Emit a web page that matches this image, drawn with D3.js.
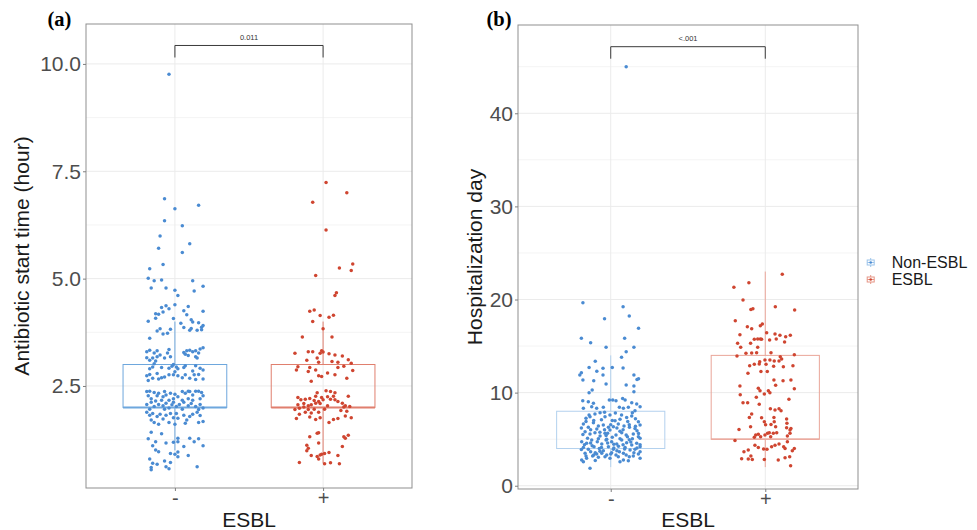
<!DOCTYPE html>
<html><head><meta charset="utf-8">
<script src="https://cdn.jsdelivr.net/npm/d3@7"></script>
<style>body{margin:0;background:#fff}svg{display:block}text{font-family:'Liberation Sans',Arial,Helvetica,sans-serif}</style>
</head><body><svg id="chart" width="977" height="530"></svg>
<script>
// ---------------- DATA ----------------
const categories = ["-", "+"];
const legendLabels = ["Non-ESBL", "ESBL"];
const pValues = ["0.011", "<.001"];
const panelLabels = ["(a)", "(b)"];
const yTitles = ["Antibiotic start time (hour)", "Hospitalization day"];
const xTitle = "ESBL";

const antibioticTicks = [2.5, 5.0, 7.5, 10.0];
const antibioticMinor = [1.25, 3.75, 6.25, 8.75];
const hospitalTicks = [0, 10, 20, 30, 40];
const hospitalMinor = [5, 15, 25, 35, 45];

// box statistics [Non-ESBL, ESBL]
const antibioticQ1 = [2.0, 2.0];
const antibioticMedian = [2.0, 2.0];
const antibioticQ3 = [3.0, 3.0];
const antibioticLow = [1.0, 0.7];
const antibioticHigh = [4.0, 4.0];
const hospitalQ1 = [4, 5];
const hospitalMedian = [4, 5];
const hospitalQ3 = [8, 14];
const hospitalLow = [2, 2];
const hospitalHigh = [14, 23];

// jittered observations: [jitter (category units), value]
const antibioticNonEsbl = [
[-0.04,9.76],
[-0.07,6.86],[0.00,6.63],[0.16,6.71],[-0.07,6.35],[0.05,6.23],[-0.10,5.99],[0.10,5.81],[-0.11,5.71],[0.05,5.61],[-0.08,5.33],[-0.17,5.23],[-0.18,5.01],[-0.14,4.95],[-0.09,4.97],[0.12,4.95],[0.19,4.82],[-0.16,4.78],[-0.06,4.78],[0.13,4.71],[0.00,4.73],[0.02,4.61],[0.00,4.39],[-0.09,4.33],[-0.06,4.37],[-0.04,4.30],[0.09,4.35],[0.06,4.25],[0.19,4.24],[-0.13,4.18],[-0.11,4.17],[-0.08,4.22],[0.08,4.16],[-0.13,4.08],[-0.18,4.01],[-0.01,4.07],[0.04,3.96],[0.11,4.04],[0.12,3.99],[0.16,3.97],[0.19,3.91],[0.18,3.87],[-0.10,3.83],[-0.03,3.82],[0.06,3.86],[0.11,3.84],
[-0.12,3.78],[-0.05,3.73],[-0.08,3.71],[0.10,3.80],[0.15,3.80],[0.18,3.81],[-0.17,3.61],
[-0.19,3.30],[-0.17,3.33],[-0.14,3.27],[-0.12,3.32],[-0.10,3.22],[-0.12,3.18],[-0.19,3.16],[-0.15,3.15],[-0.17,3.10],[-0.13,3.08],[-0.04,3.35],[-0.05,3.27],[-0.03,3.18],[-0.07,3.15],[0.06,3.28],[0.08,3.32],[0.10,3.33],[0.12,3.30],[0.14,3.32],[0.16,3.27],[0.17,3.36],[0.19,3.39],[0.14,3.18],[0.15,3.15],[0.09,3.21],[0.07,3.24],
[-0.14,3.02],[-0.15,2.94],[-0.04,2.91],[-0.02,2.96],[-0.01,3.00],[0.01,2.94],[0.02,2.90],[0.06,2.93],[0.07,2.97],[0.14,2.97],[0.17,2.91],[0.19,2.87],[0.12,2.85],[0.00,2.83],[-0.17,2.90],[-0.09,2.93],
[-0.19,2.74],[-0.17,2.77],[-0.15,2.68],[-0.12,2.79],[-0.09,2.69],[-0.07,2.71],[-0.01,2.76],[0.02,2.74],[0.05,2.69],[0.07,2.76],[0.10,2.68],[0.13,2.76],[0.16,2.77],[0.19,2.66],[-0.18,2.63],[-0.11,2.66],[-0.04,2.76],[0.14,2.65],
[-0.19,2.37],[-0.17,2.38],[-0.14,2.35],[-0.18,2.27],[-0.12,2.27],[-0.11,2.33],[-0.08,2.25],[-0.06,2.29],[-0.03,2.33],[-0.16,2.20],[-0.09,2.17],[-0.04,2.17],[0.00,2.31],[0.02,2.25],[0.05,2.37],[0.07,2.33],[0.09,2.38],[0.10,2.37],[0.12,2.29],[0.14,2.38],[0.16,2.38],[0.18,2.35],[0.19,2.27],[0.09,2.20],[0.12,2.17],[0.17,2.20],[-0.01,2.20],[0.05,2.17],[-0.13,2.15],[-0.07,2.37],
[-0.19,2.07],[-0.16,2.12],[-0.14,2.02],[-0.11,2.07],[-0.08,2.04],[-0.06,2.10],[-0.04,1.99],[-0.02,2.06],[-0.01,2.12],[0.01,2.02],[0.03,2.07],[0.06,2.12],[0.09,2.04],[0.11,2.09],[0.14,2.02],[0.17,2.07],[0.19,1.99],[-0.17,1.96],[-0.07,1.96],[0.05,1.96],[0.16,1.95],
[-0.19,1.89],[-0.17,1.82],[-0.15,1.86],[-0.12,1.79],[-0.10,1.84],[-0.16,1.71],[-0.14,1.65],[-0.08,1.73],[-0.06,1.82],[-0.03,1.86],[-0.01,1.76],[-0.04,1.65],[0.01,1.86],[0.02,1.75],[0.06,1.82],[0.08,1.71],[0.10,1.79],[0.12,1.84],[0.15,1.89],[0.17,1.81],[0.19,1.67],[0.07,1.63],[0.16,1.65],[-0.11,1.61],[0.00,1.61],
[-0.16,1.42],[-0.09,1.39],[-0.18,1.27],[-0.13,1.20],[-0.06,1.17],[-0.01,1.19],[0.02,1.28],[0.02,1.20],[0.10,1.28],[0.13,1.20],[0.16,1.27],[0.19,1.11],[-0.15,1.11],[0.06,1.09],
[-0.13,1.01],[-0.11,0.97],[-0.03,0.93],[0.00,0.91],[0.02,0.96],[0.09,0.88],[-0.17,0.80],[-0.15,0.70],[-0.12,0.68],[-0.16,0.60],[-0.07,0.75],[-0.03,0.72],[-0.06,0.62],[0.15,0.62],[-0.04,0.57],[-0.16,0.55],[0.02,0.85]
];
const antibioticEsbl = [
[0.02,7.24],[0.16,7.00],[-0.07,6.78],[0.02,6.13],[0.20,5.34],[0.11,5.25],[0.19,5.19],[-0.05,5.07],[0.09,4.67],[0.08,4.61],[-0.09,4.24],[-0.06,4.27],[-0.02,4.14],[0.04,4.10],[0.07,4.15],
[-0.07,4.00],[0.00,3.83],[-0.14,3.64],[0.06,3.64],
[-0.19,3.26],[-0.10,3.30],[-0.07,3.30],[-0.02,3.26],[-0.01,3.32],[0.00,3.29],[0.04,3.25],[0.08,3.22],[0.13,3.20],[-0.04,3.15],[-0.11,3.10],[-0.03,3.05],[0.06,3.07],[0.10,3.05],[0.17,3.11],[0.19,3.03],[-0.17,2.95],[-0.18,2.87],[-0.09,2.93],[-0.05,2.87],[0.10,2.93],[0.14,2.96],[0.20,2.86],[-0.10,2.84],[0.03,2.80],[-0.03,2.74],[-0.01,2.72],[0.08,2.76],[0.16,2.68],[-0.08,2.61],
[-0.04,2.34],[0.02,2.39],[0.05,2.37],[0.08,2.34],[0.07,2.26],[0.03,2.25],[-0.01,2.23],[-0.05,2.26],[-0.17,2.23],[-0.15,2.18],[-0.12,2.19],[-0.09,2.21],[-0.06,2.16],[-0.03,2.14],[0.00,2.18],[0.05,2.19],[0.08,2.18],[0.10,2.14],[0.13,2.10],[0.17,2.26],[0.15,2.04],[-0.17,2.06],[-0.13,2.09],[-0.10,2.04],[-0.08,2.06],[-0.05,2.10],[-0.02,2.09],[0.03,2.04],[0.14,2.01],[0.18,2.02],[-0.19,1.95],[-0.16,1.98],[-0.13,2.01],[-0.10,1.95],[-0.08,1.87],[-0.06,1.96],[-0.03,1.89],[0.01,1.96],[0.12,1.93],[0.16,1.91],[0.07,1.72],[0.10,1.74],[0.04,1.65],[-0.02,1.76],[-0.09,1.78],[-0.16,1.84],[-0.18,1.74],[-0.12,1.89],[0.19,1.76],[0.15,1.80],[-0.05,1.72],
[-0.09,1.32],[-0.03,1.41],[-0.04,1.40],[0.14,1.32],[0.17,1.35],[0.15,1.28],[-0.11,1.12],[-0.10,1.05],[-0.11,0.99],[-0.03,1.17],[0.13,1.09],[0.01,0.93],[-0.01,0.91],[-0.02,0.89],[-0.08,0.88],[-0.04,0.86],[0.04,0.95],[0.10,0.88],[-0.16,0.72],[0.01,0.69],[0.05,0.71],[0.11,0.69],[-0.03,0.80]
];
const hospitalNonEsbl = [
[0.10,45.0],
[-0.18,19.66],[0.08,19.23],[0.12,18.23],[-0.04,17.94],[0.18,16.90],[-0.19,15.83],[-0.13,15.36],[0.09,15.83],[-0.03,14.86],[0.15,14.86],[0.10,14.40],[0.07,13.79],[-0.10,13.36],[-0.14,12.71],[-0.19,12.14],[-0.09,12.29],[-0.05,12.61],[0.01,12.71],[0.08,12.64],[-0.20,11.89],[-0.05,11.89],[0.15,11.89],[-0.18,11.35],[-0.11,11.28],[0.17,11.42],[0.18,11.49],[-0.03,10.93],[0.10,10.82],[0.15,10.71],[-0.12,10.28],[-0.14,9.99],[0.15,10.10],
[-0.181,9.13],[-0.145,9.03],[-0.112,8.85],[-0.009,9.21],[0.013,9.21],[0.034,9.13],[0.077,9.38],[0.093,9.21],[0.136,8.92],[0.168,8.78],[0.19,8.49],[-0.177,8.31],[-0.123,8.49],[-0.091,8.31],[-0.048,8.42],[0.056,8.42],[0.082,8.31],[0.114,8.42],[0.157,8.06],
[-0.160,7.24],[-0.134,7.41],[-0.102,7.70],[-0.069,7.84],[-0.037,7.41],[-0.005,7.59],[0.028,6.98],[0.06,7.13],[0.103,7.34],[0.136,7.49],[0.179,6.88],[0.19,6.52],[-0.177,6.63],[-0.145,6.27],[-0.112,6.77],[-0.080,6.41],[-0.048,6.52],[-0.015,6.27],[0.017,6.34],[0.049,6.63],[0.086,6.41],[0.121,6.27],[0.157,6.16],
[-0.166,5.80],[-0.134,5.55],[-0.102,5.70],[-0.069,5.34],[-0.037,5.63],[-0.005,5.98],[0.034,5.45],[0.071,5.70],[0.108,5.27],[0.146,5.55],[0.179,5.27],
[-0.188,4.73],[-0.156,4.55],[-0.123,4.91],[-0.087,4.73],[-0.058,4.48],[-0.026,4.98],[0.006,4.73],[0.039,4.48],[0.071,4.91],[0.103,4.62],[0.136,4.37],[0.168,4.55],[0.19,4.19],[-0.177,4.12],[-0.145,3.91],[-0.108,4.19],[-0.074,4.01],[-0.048,3.76],[-0.015,4.19],[0.017,3.91],[0.056,3.66],[0.093,4.12],[0.125,3.83],[0.157,3.91],[0.19,3.66],
[-0.166,3.48],[-0.130,3.66],[-0.091,3.40],[-0.058,3.48],[-0.026,3.30],[0.006,3.55],[0.034,3.30],[0.082,3.48],[0.179,3.40],[-0.188,2.76],[-0.156,2.94],[-0.117,3.19],[-0.080,3.05],[-0.037,3.12],[-0.005,2.94],[0.049,3.12],[0.082,2.76],[0.146,3.19],[0.19,2.94],[-0.177,2.58],[0.06,2.58],[0.114,2.69],[-0.134,1.87],
[-0.17,4.40],[-0.12,4.30],[-0.10,3.55],[-0.06,4.10],[-0.02,4.60],[0.02,4.05],[0.05,4.25],[0.09,3.95],[0.13,4.70],[0.17,4.05],[-0.15,5.10],[-0.08,5.05],[-0.03,5.40],[0.01,5.20],[0.06,5.05],[0.10,5.45],[0.14,5.05],[0.18,5.60],[-0.18,5.50],[-0.13,6.00],[-0.09,6.10],[-0.04,6.00],[0.00,6.55],[0.04,6.20],[0.08,6.00],[0.12,6.55],[0.16,6.40],[-0.16,6.90],[-0.11,7.00],[-0.06,7.10],[0.01,7.00],[0.07,7.60],[0.11,6.90],[0.16,7.20],[-0.14,7.60],[-0.04,7.90],[0.03,7.80],[0.14,7.85],[-0.19,3.90],[-0.11,3.30],[-0.07,3.70],[0.00,3.40],[0.04,3.75],[0.10,3.30],[0.15,3.55],[0.19,4.40],[-0.03,4.90],[0.12,4.95],[-0.13,4.60],[0.08,4.40],[-0.16,3.20],[0.02,4.45],[0.06,5.85],[-0.07,5.75],[0.17,5.90],[0.19,5.10],[-0.19,6.20],[-0.02,5.65],[0.12,3.10],[-0.10,2.70]
];
const hospitalEsbl = [
[0.110,22.70],[-0.203,21.31],[-0.106,21.81],[-0.144,19.95],[-0.093,18.94],[-0.080,19.02],[0.065,19.23],[0.190,18.87],[-0.194,17.73],[-0.019,17.37],[-0.032,17.19],[-0.116,17.08],[-0.088,16.87],[-0.164,16.22],[0.009,16.44],[0.063,16.29],[0.095,16.15],[0.162,16.15],[0.132,16.01],[-0.049,15.76],[-0.032,15.76],[-0.071,15.72],[-0.024,15.72],[0.028,15.65],[0.071,15.76],[0.125,15.44],[-0.179,15.29],[-0.095,15.29],[-0.049,14.86],[-0.159,14.86],[-0.125,14.22],[-0.088,14.25],[-0.056,14.29],[-0.183,13.93],[0.188,14.07],[0.037,14.29],[0.097,13.86],[0.106,13.61],[0.089,13.39],[0.058,13.39],[0.030,13.50],[0.005,13.04],[-0.036,13.32],[-0.071,13.04],[-0.101,12.89],[-0.039,13.07],[0.054,12.82],[0.117,12.79],[0.179,12.89],[-0.112,12.07],[-0.028,12.28],[0.013,12.28],[0.056,11.35],[0.115,11.28],[0.166,11.35],[-0.045,10.46],[-0.034,10.21],[0.020,10.21],[-0.006,9.85],[0.030,9.99],[0.067,10.78],[-0.164,10.71],[-0.162,9.78],[0.188,10.42],[-0.058,9.49],[-0.144,8.92],[-0.114,8.92],[0.153,9.28],[-0.039,8.74],[0.033,8.27],[0.089,8.27],[-0.088,7.70],[-0.103,7.34],[-0.024,7.31],[0.056,7.34],[0.138,7.16],[-0.006,6.88],[0.058,6.88],[0.037,6.59],[-0.095,6.34],[0.140,6.70],[0.067,6.34],[0.138,6.23],[0.160,5.98],[0.160,5.63],[-0.170,6.05],[-0.062,5.45],[-0.045,5.52],[-0.002,5.45],[-0.030,5.27],[-0.071,5.20],[0.015,5.63],[0.052,5.63],[0.074,5.70],[0.035,5.27],[-0.196,4.87],[0.143,4.73],[-0.067,4.34],[-0.045,4.12],[-0.011,3.94],[0.011,3.91],[0.041,4.19],[0.063,4.34],[0.089,4.48],[0.119,4.19],[0.175,3.76],[-0.138,3.66],[-0.110,3.83],[-0.093,3.19],[-0.110,2.87],[-0.153,2.90],[-0.084,2.83],[-0.006,2.83],[0.084,2.76],[0.128,3.01],[0.158,3.12],[0.164,2.15],[0.128,4.01],[0.188,4.01],[0.166,6.16],[0.002,6.56],[0.063,8.13],[0.102,8.06],[-0.002,13.50],[0.143,5.34],[0.026,5.70]
];

// ---------------- STYLE ----------------
const pointColors = ["#4a8bd2", "#cf4530"];
const svg = d3.select("#chart");
svg.append("rect").attr("width", 977).attr("height", 530).attr("fill", "#fff");

function drawPanel(o) {
  const x = d3.scalePoint().domain(categories).range([o.left, o.right]).padding(0.6);
  const step = x.step();
  const y = d3.scaleLinear().domain(o.domain).range([o.bottom, o.top]);
  const g = svg.append("g");

  g.selectAll(".mn").data(o.minor).join("line")
    .attr("x1", o.left).attr("x2", o.right)
    .attr("y1", d => y(d)).attr("y2", d => y(d))
    .attr("stroke", "#f4f4f4").attr("stroke-width", 1);
  g.selectAll(".mj").data(o.ticks).join("line")
    .attr("x1", o.left).attr("x2", o.right)
    .attr("y1", d => y(d)).attr("y2", d => y(d))
    .attr("stroke", "#ebebeb").attr("stroke-width", 1);
  g.selectAll(".vg").data(categories).join("line")
    .attr("x1", d => x(d)).attr("x2", d => x(d))
    .attr("y1", o.top).attr("y2", o.bottom)
    .attr("stroke", "#ebebeb").attr("stroke-width", 1);

  // boxes
  categories.forEach((c, i) => {
    const cx = x(c), hw = step * 0.35, col = o.boxColors[i];
    g.append("line").attr("x1", cx).attr("x2", cx).attr("y1", y(o.hi[i])).attr("y2", y(o.q3[i]))
      .attr("stroke", col).attr("stroke-width", 1);
    g.append("line").attr("x1", cx).attr("x2", cx).attr("y1", y(o.q1[i])).attr("y2", y(o.lo[i]))
      .attr("stroke", col).attr("stroke-width", 1);
    g.append("rect").attr("x", cx - hw).attr("y", y(o.q3[i]))
      .attr("width", 2 * hw).attr("height", y(o.q1[i]) - y(o.q3[i]))
      .attr("fill", "none").attr("stroke", col).attr("stroke-width", 1);
    g.append("line").attr("x1", cx - hw).attr("x2", cx + hw).attr("y1", y(o.med[i])).attr("y2", y(o.med[i]))
      .attr("stroke", col).attr("stroke-width", o.medWidth);
  });

  // points
  o.pts.forEach((arr, i) => {
    g.append("g").selectAll("circle").data(arr).join("circle")
      .attr("cx", d => x(categories[i]) + d[0] * step)
      .attr("cy", d => y(d[1]))
      .attr("r", 1.75).attr("fill", pointColors[i]);
  });

  // panel border
  g.append("rect").attr("x", o.left).attr("y", o.top)
    .attr("width", o.right - o.left).attr("height", o.bottom - o.top)
    .attr("fill", "none").attr("stroke", "#8f8f8f").attr("stroke-width", 1);

  // axes
  const ya = g.append("g").attr("transform", `translate(${o.left},0)`)
    .call(d3.axisLeft(y).tickValues(o.ticks).tickFormat(o.fmt).tickSize(3).tickPadding(2));
  ya.select(".domain").remove();
  ya.selectAll("line").attr("stroke", "#7f7f7f");
  ya.selectAll("text").attr("font-size", 21).attr("fill", "#4d4d4d")
    .style("font-family", "'Liberation Sans',Arial,sans-serif");
  const xa = g.append("g").attr("transform", `translate(0,${o.bottom})`)
    .call(d3.axisBottom(x).tickSize(3).tickPadding(0));
  xa.select(".domain").remove();
  xa.selectAll("line").attr("stroke", "#7f7f7f");
  xa.selectAll("text").attr("font-size", 20).attr("fill", "#4d4d4d")
    .style("font-family", "'Liberation Sans',Arial,sans-serif");

  // significance bracket
  const x1 = x(categories[0]), x2 = x(categories[1]);
  const yb = y(o.bracket), yt = y(o.bracketTip);
  g.append("path").attr("d", `M${x1},${yt}V${yb}H${x2}V${yt}`)
    .attr("fill", "none").attr("stroke", "#3a3a3a").attr("stroke-width", 1);
  g.append("text").attr("x", (x1 + x2) / 2).attr("y", yb - 5.5)
    .attr("text-anchor", "middle").attr("font-size", 7.5).attr("fill", "#333").text(o.p);

  // titles
  g.append("text").attr("transform", `translate(${o.yTitleX},${(o.top + o.bottom) / 2}) rotate(-90)`)
    .attr("text-anchor", "middle").attr("font-size", 21).attr("fill", "#1a1a1a").text(o.yTitle);
  g.append("text").attr("x", (o.left + o.right) / 2).attr("y", 527)
    .attr("text-anchor", "middle").attr("font-size", 21).attr("fill", "#1a1a1a").text(xTitle);
  g.append("text").attr("x", o.labelX).attr("y", 26)
    .attr("font-size", 20.5).attr("font-weight", "bold")
    .style("font-family", "'Liberation Serif','Times New Roman',serif")
    .attr("fill", "#000").text(o.label);
}

drawPanel({
  left: 86, right: 412, top: 24, bottom: 488,
  domain: [0.124, 10.93], ticks: antibioticTicks, minor: antibioticMinor,
  fmt: d3.format(".1f"),
  pts: [antibioticNonEsbl, antibioticEsbl],
  q1: antibioticQ1, med: antibioticMedian, q3: antibioticQ3, lo: antibioticLow, hi: antibioticHigh,
  boxColors: ["#6ea7dd", "#e07f6e"], medWidth: 2,
  bracket: 10.43, bracketTip: 10.15, p: pValues[0],
  yTitle: yTitles[0], yTitleX: 28.5, label: panelLabels[0], labelX: 47.5
});
drawPanel({
  left: 518, right: 858, top: 25, bottom: 489,
  domain: [-0.35, 49.48], ticks: hospitalTicks, minor: hospitalMinor,
  fmt: d3.format("d"),
  pts: [hospitalNonEsbl, hospitalEsbl],
  q1: hospitalQ1, med: hospitalMedian, q3: hospitalQ3, lo: hospitalLow, hi: hospitalHigh,
  boxColors: ["#b3d1ee", "#eaa599"], medWidth: 1.2,
  bracket: 47.15, bracketTip: 45.86, p: pValues[1],
  yTitle: yTitles[1], yTitleX: 481.5, label: panelLabels[1], labelX: 486.5
});

// legend
const legendColors = [["#9cc4ea", "#4a8bd2"], ["#e69585", "#cf4530"]];
const lg = svg.append("g").attr("transform", "translate(870.7,262.5)");
legendLabels.forEach((lab, i) => {
  const gi = lg.append("g").attr("transform", `translate(0,${i * 17})`);
  const [bc, pc] = legendColors[i];
  gi.append("line").attr("x1", 0).attr("x2", 0).attr("y1", -4.5).attr("y2", 4.5).attr("stroke", bc).attr("stroke-width", 1);
  gi.append("rect").attr("x", -3.5).attr("y", -2.5).attr("width", 7).attr("height", 5)
    .attr("fill", "#fff").attr("stroke", bc).attr("stroke-width", 1);
  gi.append("line").attr("x1", -3.5).attr("x2", 3.5).attr("y1", 0).attr("y2", 0).attr("stroke", bc).attr("stroke-width", 1);
  gi.append("circle").attr("cx", 0).attr("cy", 0).attr("r", 1.3).attr("fill", pc);
  gi.append("text").attr("x", 21).attr("y", 5.8).attr("font-size", 16).attr("fill", "#1a1a1a").text(lab);
});
</script></body></html>
